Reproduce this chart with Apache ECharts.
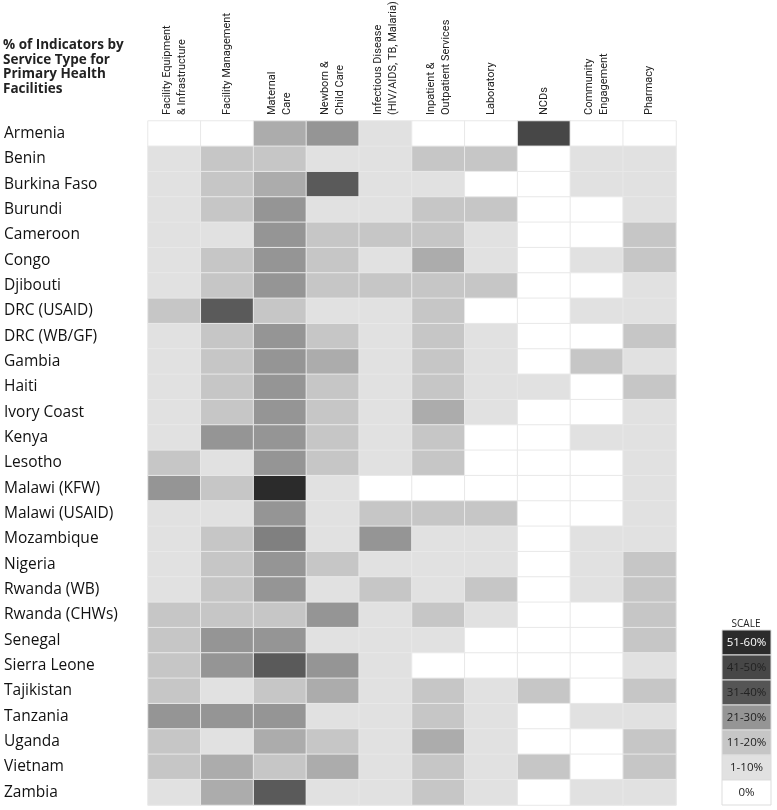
<!DOCTYPE html>
<html>
<head>
<meta charset="utf-8">
<script src="https://cdn.jsdelivr.net/npm/echarts@6/dist/echarts.min.js"></script>
<style>
  html, body { margin: 0; padding: 0; background: #fff; }
  #chart { width: 777px; height: 810px; }
</style>
</head>
<body>
<div id="chart"></div>
<script>
// service types (columns)
const services = [
  'Facility Equipment\n& Infrastructure',
  'Facility Management',
  'Maternal\nCare',
  'Newborn &\nChild Care',
  'Infectious Disease\n(HIV/AIDS, TB, Malaria)',
  'Inpatient &\nOutpatient Services',
  'Laboratory',
  'NCDs',
  'Community\nEngagement',
  'Pharmacy'
];

// countries (rows)
const countries = [
  'Armenia', 'Benin', 'Burkina Faso', 'Burundi', 'Cameroon', 'Congo', 'Djibouti',
  'DRC (USAID)', 'DRC (WB/GF)', 'Gambia', 'Haiti', 'Ivory Coast', 'Kenya', 'Lesotho',
  'Malawi (KFW)', 'Malawi (USAID)', 'Mozambique', 'Nigeria', 'Rwanda (WB)',
  'Rwanda (CHWs)', 'Senegal', 'Sierra Leone', 'Tajikistan', 'Tanzania', 'Uganda',
  'Vietnam', 'Zambia'
];

// approx % of indicators, one row per country, in column order
const pct = [
  [0, 0, 20, 25, 5, 0, 0, 45, 0, 0],
  [5, 15, 15, 5, 5, 15, 15, 0, 5, 5],
  [5, 15, 20, 35, 5, 5, 0, 0, 5, 5],
  [5, 15, 25, 5, 5, 15, 15, 0, 0, 5],
  [5, 5, 25, 15, 15, 15, 5, 0, 0, 15],
  [5, 15, 25, 15, 5, 20, 5, 0, 5, 15],
  [5, 15, 25, 15, 15, 15, 15, 0, 0, 5],
  [15, 35, 15, 5, 5, 15, 0, 0, 5, 5],
  [5, 15, 25, 15, 5, 15, 5, 0, 0, 15],
  [5, 15, 25, 20, 5, 15, 5, 0, 15, 5],
  [5, 15, 25, 15, 5, 15, 5, 5, 0, 15],
  [5, 15, 25, 15, 5, 20, 5, 0, 0, 5],
  [5, 25, 25, 15, 5, 15, 0, 0, 5, 5],
  [15, 5, 25, 15, 5, 15, 0, 0, 0, 5],
  [25, 15, 55, 5, 0, 0, 0, 0, 0, 5],
  [5, 5, 25, 5, 15, 15, 15, 0, 0, 5],
  [5, 15, 28, 5, 25, 5, 5, 0, 5, 5],
  [5, 15, 25, 15, 5, 5, 5, 0, 5, 15],
  [5, 15, 25, 5, 15, 5, 15, 0, 5, 15],
  [15, 15, 15, 25, 5, 15, 5, 0, 0, 15],
  [15, 25, 25, 5, 5, 5, 0, 0, 0, 15],
  [15, 25, 35, 25, 5, 0, 0, 0, 0, 5],
  [15, 5, 15, 20, 5, 15, 5, 15, 0, 15],
  [25, 25, 25, 5, 5, 15, 5, 0, 5, 5],
  [15, 5, 20, 15, 5, 20, 5, 0, 0, 15],
  [15, 20, 15, 20, 5, 15, 5, 15, 0, 15],
  [5, 20, 35, 5, 5, 15, 5, 0, 5, 5]
];

// scale legend
const scaleLabels = ['51-60%', '41-50%', '31-40%', '21-30%', '11-20%', '1-10%', '0%'];
const scaleColors = ['#2b2b2b', '#474747', '#555555', '#959595', '#c6c6c6', '#e1e1e1', '#ffffff'];

const cells = [];
pct.forEach((row, r) => {
  row.forEach((v, c) => cells.push([c, r, v]));
});

const chart = echarts.init(document.getElementById('chart'));

const legendGraphics = [{
  type: 'text',
  x: 746,
  y: 624,
  style: { text: 'SCALE', fontSize: 10, fontFamily: 'Open Sans', fill: '#222', align: 'center', verticalAlign: 'middle' }
}];
scaleLabels.forEach((lab, i) => {
  legendGraphics.push({
    type: 'rect',
    x: 722,
    y: 630 + i * 25,
    shape: { width: 49, height: 25 },
    style: { fill: scaleColors[i], stroke: '#dddddd', lineWidth: 1 }
  });
  legendGraphics.push({
    type: 'text',
    x: 746.5,
    y: 643 + i * 25,
    style: {
      text: lab, fontSize: 11.5, fontFamily: 'Open Sans',
      fill: i === 0 ? '#fff' : '#222', align: 'center', verticalAlign: 'middle'
    }
  });
});

chart.setOption({
  animation: false,
  grid: { left: 148, right: 101, top: 121, bottom: 5, outerBoundsMode: 'none' },
  xAxis: {
    type: 'category',
    position: 'top',
    data: services,
    axisLine: { show: false },
    axisTick: { show: false },
    splitArea: { show: false },
    axisLabel: {
      rotate: -90,
      margin: 6,
      interval: 0,
      fontSize: 11,
      lineHeight: 15,
      fontFamily: 'Roboto',
      color: '#222'
    }
  },
  yAxis: {
    type: 'category',
    inverse: true,
    data: countries,
    axisLine: { show: false },
    axisTick: { show: false },
    axisLabel: {
      align: 'left',
      margin: 144,
      fontSize: 15.5,
      fontFamily: 'Open Sans',
      color: '#111',
      padding: [6, 0, 0, 0]
    }
  },
  visualMap: {
    show: false,
    type: 'piecewise',
    dimension: 2,
    pieces: [
      { value: 0, color: '#ffffff' },
      { gt: 0, lte: 10, color: '#e1e1e1' },
      { gt: 10, lte: 18, color: '#c6c6c6' },
      { gt: 18, lte: 22, color: '#acacac' },
      { gt: 22, lte: 26, color: '#959595' },
      { gt: 26, lte: 30, color: '#808080' },
      { gt: 30, lte: 40, color: '#5a5a5a' },
      { gt: 40, lte: 50, color: '#474747' },
      { gt: 50, color: '#2b2b2b' }
    ]
  },
  series: [{
    type: 'heatmap',
    data: cells,
    itemStyle: { borderColor: '#e8e8e8', borderWidth: 1 },
    emphasis: { disabled: true }
  }],
  graphic: [{
    type: 'text',
    x: 3,
    y: 38,
    style: {
      text: '% of Indicators by\nService Type for\nPrimary Health\nFacilities',
      fontSize: 13.5,
      fontWeight: 'bold',
      lineHeight: 14.5,
      fontFamily: 'Open Sans',
      fill: '#222'
    }
  }].concat(legendGraphics)
});
</script>
</body>
</html>
